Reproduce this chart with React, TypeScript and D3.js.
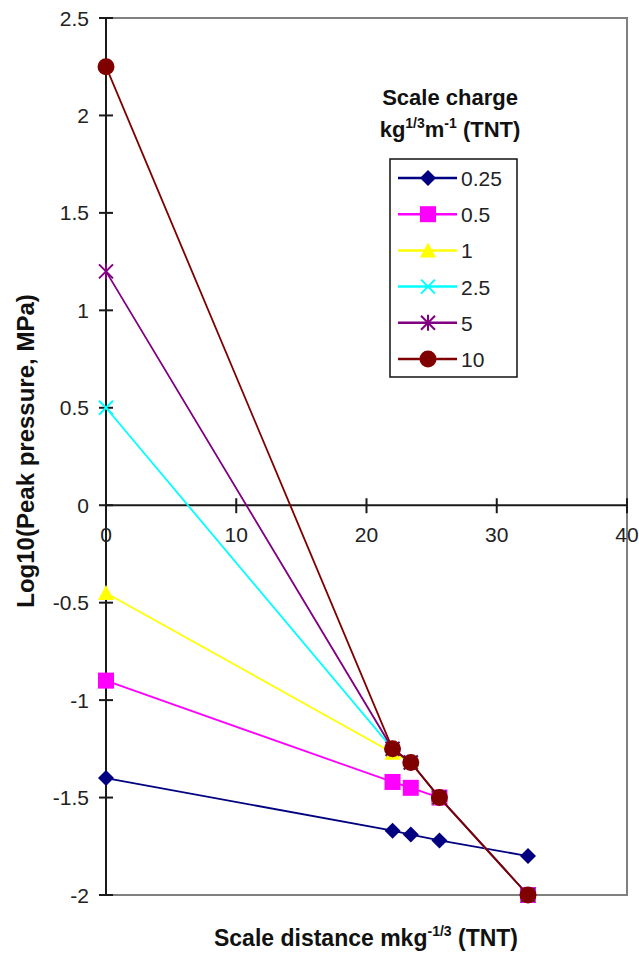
import React, { useEffect, useRef } from "react";
import * as d3 from "d3";

const xValues = [0, 22, 23.4, 25.6, 32.4];
const seriesNames = ["0.25", "0.5", "1", "2.5", "5", "10"];
const s025 = [-1.4, -1.67, -1.69, -1.72, -1.8];
const s05 = [-0.9, -1.42, -1.45, -1.5, -2];
const s1 = [-0.45, -1.27, -1.32, -1.5, -2];
const s25 = [0.5, -1.25, -1.32, -1.5, -2];
const s5 = [1.2, -1.25, -1.32, -1.5, -2];
const s10 = [2.25, -1.25, -1.32, -1.5, -2];
const xTicks = [0, 10, 20, 30, 40];
const yTicks = [-2, -1.5, -1, -0.5, 0, 0.5, 1, 1.5, 2, 2.5];

const colors = ["#000080", "#FF00FF", "#FFFF00", "#00FFFF", "#800080", "#800000"];
const markerKinds = ["diamond", "square", "triangle", "x", "asterisk", "circle"];

const W = 639;
const H = 954;
const FONT = "Arial, 'Liberation Sans', Helvetica, sans-serif";

function drawMarker(g: any, kind: string, color: string, cx: number, cy: number) {
  if (kind === "diamond") {
    const r = 8;
    g.append("path")
      .attr("d", `M${cx},${cy - r}L${cx + r},${cy}L${cx},${cy + r}L${cx - r},${cy}Z`)
      .attr("fill", color);
  } else if (kind === "square") {
    g.append("rect").attr("x", cx - 8).attr("y", cy - 8).attr("width", 16).attr("height", 16).attr("fill", color);
  } else if (kind === "triangle") {
    const r = 8;
    g.append("path")
      .attr("d", `M${cx},${cy - r}L${cx + r},${cy + r - 1}L${cx - r},${cy + r - 1}Z`)
      .attr("fill", color);
  } else if (kind === "x") {
    const r = 7;
    g.append("path")
      .attr("d", `M${cx - r},${cy - r}L${cx + r},${cy + r}M${cx - r},${cy + r}L${cx + r},${cy - r}`)
      .attr("stroke", color)
      .attr("stroke-width", 2)
      .attr("fill", "none");
  } else if (kind === "asterisk") {
    const r = 7;
    g.append("path")
      .attr(
        "d",
        `M${cx - r},${cy - r}L${cx + r},${cy + r}M${cx - r},${cy + r}L${cx + r},${cy - r}M${cx},${cy - r - 1}L${cx},${cy + r + 1}`
      )
      .attr("stroke", color)
      .attr("stroke-width", 2)
      .attr("fill", "none");
  } else {
    g.append("circle").attr("cx", cx).attr("cy", cy).attr("r", 8.5).attr("fill", color);
  }
}

export default function App() {
  const ref = useRef<SVGSVGElement | null>(null);

  useEffect(() => {
    const svg = d3.select(ref.current);
    svg.selectAll("*").remove();

    const x = d3.scaleLinear().domain([0, 40]).range([106, 627]);
    const y = d3.scaleLinear().domain([-2, 2.5]).range([895, 18]);

    // plot border (gray)
    svg.append("rect")
      .attr("x", x(0)).attr("y", y(2.5))
      .attr("width", x(40) - x(0)).attr("height", y(-2) - y(2.5))
      .attr("fill", "none").attr("stroke", "#808080").attr("stroke-width", 2);

    // y axis
    const yAxisG = svg.append("g");
    yAxisG.append("line")
      .attr("x1", x(0)).attr("x2", x(0)).attr("y1", y(2.5)).attr("y2", y(-2))
      .attr("stroke", "#1a1a1a").attr("stroke-width", 2);
    yTicks.forEach((t) => {
      yAxisG.append("line")
        .attr("x1", x(0) - 7).attr("x2", x(0) + 7).attr("y1", y(t)).attr("y2", y(t))
        .attr("stroke", "#1a1a1a").attr("stroke-width", 2);
      yAxisG.append("text")
        .attr("x", 89).attr("y", y(t) + 7.5)
        .attr("text-anchor", "end")
        .attr("font-family", FONT).attr("font-size", 21).attr("fill", "#222")
        .text(String(t));
    });

    // x axis at y=0
    const xAxisG = svg.append("g");
    xAxisG.append("line")
      .attr("x1", x(0)).attr("x2", x(40)).attr("y1", y(0)).attr("y2", y(0))
      .attr("stroke", "#1a1a1a").attr("stroke-width", 2);
    xTicks.forEach((t) => {
      xAxisG.append("line")
        .attr("x1", x(t)).attr("x2", x(t)).attr("y1", y(0) - 7).attr("y2", y(0) + 8)
        .attr("stroke", "#1a1a1a").attr("stroke-width", 2);
      xAxisG.append("text")
        .attr("x", x(t)).attr("y", y(0) + 37)
        .attr("text-anchor", "middle")
        .attr("font-family", FONT).attr("font-size", 21).attr("fill", "#222")
        .text(String(t));
    });

    const allSeries = [s025, s05, s1, s25, s5, s10];
    const line = d3.line<number>().x((_, i) => x(xValues[i])).y((d) => y(d));

    allSeries.forEach((vals, si) => {
      const g = svg.append("g");
      g.append("path")
        .attr("d", line(vals) as string)
        .attr("fill", "none")
        .attr("stroke", colors[si])
        .attr("stroke-width", 1.8);
      vals.forEach((v, i) => drawMarker(g, markerKinds[si], colors[si], x(xValues[i]), y(v)));
    });

    // legend
    const lg = svg.append("g");
    lg.append("text")
      .attr("x", 450).attr("y", 105).attr("text-anchor", "middle")
      .attr("font-family", FONT).attr("font-size", 22).attr("font-weight", "bold").attr("fill", "#111")
      .text("Scale charge");
    const t2 = lg.append("text")
      .attr("x", 450).attr("y", 137).attr("text-anchor", "middle")
      .attr("font-family", FONT).attr("font-size", 22).attr("font-weight", "bold").attr("fill", "#111");
    t2.append("tspan").text("kg");
    t2.append("tspan").attr("dy", -9).attr("font-size", 14).text("1/3");
    t2.append("tspan").attr("dy", 9).text("m");
    t2.append("tspan").attr("dy", -9).attr("font-size", 14).text("-1");
    t2.append("tspan").attr("dy", 9).text(" (TNT)");

    lg.append("rect")
      .attr("x", 390).attr("y", 159).attr("width", 127).attr("height", 218)
      .attr("fill", "white").attr("stroke", "#111").attr("stroke-width", 1.5);
    seriesNames.forEach((name, i) => {
      const cy = 178 + i * 36.2;
      lg.append("line")
        .attr("x1", 398).attr("x2", 457).attr("y1", cy).attr("y2", cy)
        .attr("stroke", colors[i]).attr("stroke-width", 2.5);
      drawMarker(lg, markerKinds[i], colors[i], 428, cy);
      lg.append("text")
        .attr("x", 461).attr("y", cy + 8)
        .attr("font-family", FONT).attr("font-size", 21).attr("fill", "#222")
        .text(name);
    });

    // axis titles
    const xt = svg.append("text")
      .attr("x", 366).attr("y", 946).attr("text-anchor", "middle")
      .attr("font-family", FONT).attr("font-size", 23).attr("font-weight", "bold").attr("fill", "#111");
    xt.append("tspan").text("Scale distance mkg");
    xt.append("tspan").attr("dy", -10).attr("font-size", 14).text("-1/3");
    xt.append("tspan").attr("dy", 10).text(" (TNT)");

    svg.append("text")
      .attr("transform", `translate(34,451) rotate(-90)`)
      .attr("text-anchor", "middle")
      .attr("font-family", FONT).attr("font-size", 24).attr("font-weight", "bold").attr("fill", "#111")
      .text("Log10(Peak pressure, MPa)");
  }, []);

  return (
    <svg
      ref={ref}
      width={W}
      height={H}
      style={{ position: "absolute", left: 0, top: 0, background: "white" }}
    />
  );
}
